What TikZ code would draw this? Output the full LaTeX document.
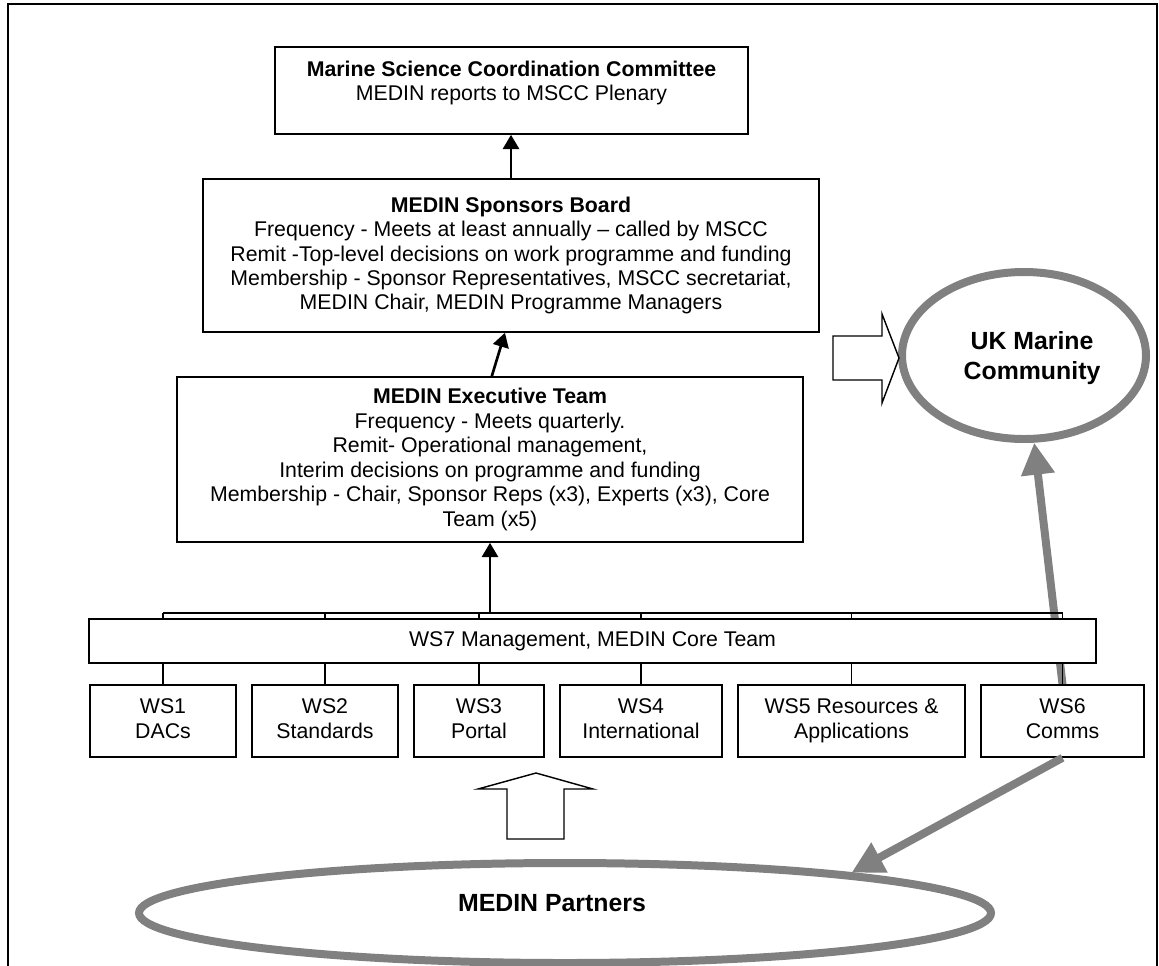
\documentclass[tikz,border=0pt]{standalone}
\usepackage{fontspec}
\setmainfont{Liberation Sans}
\usetikzlibrary{arrows.meta,shapes.geometric,backgrounds}
\newdimen\pxu \pxu=0.5634pt

\tikzset{
  txt/.style={inner sep=0pt, align=center, font=\fontsize{12}{13.8}\selectfont},
  box/.style={txt, draw, line width=0.9pt, fill=white},
  bigtxt/.style={inner sep=0pt, align=center, font=\fontsize{14}{16.9}\selectfont\bfseries},
  community/.style={ellipse, draw=gray, line width=4.5pt, inner sep=0pt},
  link/.style={line width=0.9pt},
  arr/.style={line width=1.5pt, -{Triangle[width=9pt,length=8pt]}},
  grayarr/.style={draw=gray, line width=4.5pt, -{Triangle[width=18pt,length=18pt]}, fill=gray},
  hollow/.style={draw, line width=0.8pt, fill=white}
}

\begin{document}
\begin{tikzpicture}[x=0.5634pt, y=-0.5634pt]
  \useasboundingbox (0,0) rectangle (1159,965);
  % frame
  \draw[line width=1pt] (8,980) -- (8,4) -- (1157,4) -- (1157,980);

  % committee and boards
  \node[box, minimum width=473\pxu, minimum height=87\pxu] (mscc) at (511.5,90.5) {};
  \node[txt] (mscctext) at (511.5,83)
    {\textbf{Marine Science Coordination Committee}\\MEDIN reports to MSCC Plenary};
  \node[box, minimum width=616\pxu, minimum height=153\pxu] (sponsors) at (511,255.5)
    {\textbf{MEDIN Sponsors Board}\\
     Frequency - Meets at least annually -- called by MSCC\\
     Remit -Top-level decisions on work programme and funding\\
     Membership - Sponsor Representatives, MSCC secretariat,\\
     MEDIN Chair, MEDIN Programme Managers};
  \node[box, minimum width=626\pxu, minimum height=165\pxu] (exec) at (490,459.5)
    {\textbf{MEDIN Executive Team}\\
     Frequency - Meets quarterly.\\
     Remit- Operational management,\\
     Interim decisions on programme and funding\\
     Membership - Chair, Sponsor Reps (x3), Experts (x3), Core\\
     Team (x5)};

  % work streams
  \node[box, minimum width=1007\pxu, minimum height=44\pxu] (ws7) at (592.5,641)
    {WS7 Management, MEDIN Core Team};
  \coordinate (bus) at (490,613);
  \foreach \n/\cx/\w/\txt in {1/163/146/{WS1\strut\\DACs\strut},
                              2/325/146/{WS2\strut\\Standards\strut},
                              3/479/130/{WS3\strut\\Portal\strut},
                              4/641/162/{WS4\strut\\International\strut},
                              5/851.5/227/{WS5 Resources \&\strut\\Applications\strut},
                              6/1062.5/163/{WS6\strut\\Comms\strut}}
    \node[box, minimum width=\w\pxu, minimum height=72\pxu] (ws\n) at (\cx,721) {\txt};

  \foreach \n in {1,...,6} {
    \draw[link] (ws\n.north) -- (ws\n.north |- ws7.south);
    \draw[link] (ws\n.north |- ws7.north) -- (ws\n.north |- bus);
  }
  \draw[link] (ws1.north |- bus) -- (ws6.north |- bus);

  % reporting lines
  \draw[arr] (sponsors.north) -- (sponsors.north |- mscc.south);
  \draw[arr] ([xshift=1pt]exec.north) -- ([xshift=-3.4pt]sponsors.south);
  \draw[arr] (bus) -- (bus |- exec.south);

  % community
  \node[community, minimum width=244\pxu, minimum height=167\pxu] (uk) at (1024,355.5) {};
  \node[bigtxt] (uktext) at (1032,358) {UK Marine\\Community};
  \node[community, minimum width=852\pxu, minimum height=100\pxu] (partners) at (565,913) {};
  \node[bigtxt] (partnerstext) at (552,903) {MEDIN Partners};

  \begin{scope}[on background layer]
    \draw[grayarr] (ws6.north) -- (uk);
  \end{scope}
  \draw[grayarr] (ws6.south) -- (partners.8);

  % block arrows
  \draw[hollow] (833,336) -- (882,336) -- (882,314) -- (899,358)
    -- (882,403) -- (882,380) -- (833,380) -- cycle;
  \draw[hollow] (507,839) -- (507,789) -- (478,789) -- (536,773)
    -- (593,789) -- (564,789) -- (564,839) -- cycle;
\end{tikzpicture}
\end{document}
